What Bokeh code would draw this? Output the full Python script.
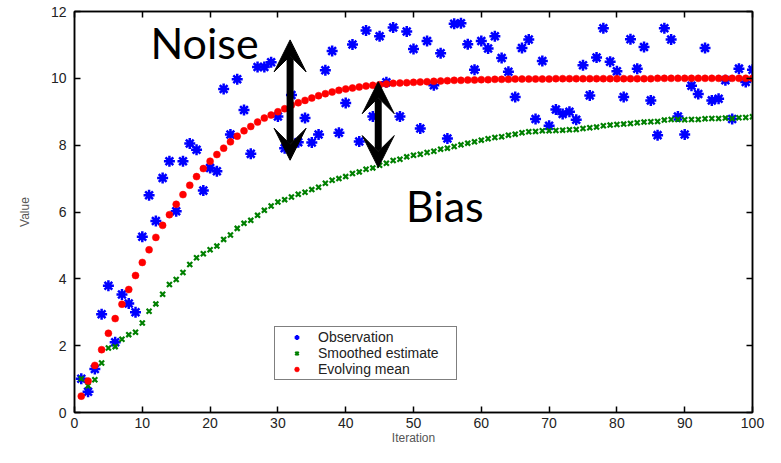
from bokeh.plotting import figure
from bokeh.models import (Range1d, FixedTicker, LinearAxis, Legend, LegendItem,
                          Label, Arrow, VeeHead)
from bokeh.embed import file_html
from bokeh.resources import INLINE

iterations = list(range(1, 101))

observation = [
    1.01, 0.62, 1.30, 2.94, 3.79, 2.10, 3.53, 3.26, 3.00, 5.26,
    6.50, 5.73, 7.02, 7.52, 6.02, 7.52, 8.05, 7.86, 6.64, 7.32,
    7.22, 9.68, 8.32, 9.97, 9.05, 7.74, 10.34, 10.34, 10.48, 8.86,
    7.91, 9.50, 8.09, 8.81, 8.08, 8.32, 10.24, 10.82, 8.37, 9.26,
    11.01, 8.11, 11.43, 8.86, 11.26, 9.88, 11.52, 8.86, 11.40, 10.88,
    8.50, 11.12, 9.79, 10.75, 8.20, 11.63, 11.65, 11.02, 10.26, 11.12,
    10.89, 11.26, 10.61, 10.20, 9.44, 10.91, 11.16, 8.78, 10.52, 8.58,
    9.07, 8.93, 9.00, 8.76, 10.39, 9.49, 10.62, 11.50, 10.50, 10.21,
    9.44, 11.17, 10.29, 10.94, 9.34, 8.30, 11.50, 11.16, 8.86, 8.32,
    9.78, 9.53, 10.91, 9.34, 9.39, 9.94, 8.78, 10.29, 9.89, 10.26,
]

smoothed = [
    1.01, 0.80, 0.98, 1.48, 1.93, 1.97, 2.19, 2.33, 2.40, 2.68,
    3.03, 3.25, 3.54, 3.83, 3.98, 4.19, 4.43, 4.63, 4.75, 4.87,
    4.98, 5.18, 5.31, 5.51, 5.66, 5.75, 5.90, 6.05, 6.18, 6.30,
    6.37, 6.45, 6.53, 6.59, 6.67, 6.74, 6.86, 6.95, 7.00, 7.06,
    7.15, 7.20, 7.28, 7.32, 7.40, 7.46, 7.54, 7.58, 7.65, 7.70,
    7.73, 7.78, 7.82, 7.88, 7.91, 7.96, 8.01, 8.06, 8.10, 8.15,
    8.19, 8.23, 8.25, 8.30, 8.33, 8.37, 8.40, 8.41, 8.43, 8.43,
    8.44, 8.45, 8.46, 8.47, 8.50, 8.52, 8.54, 8.58, 8.60, 8.62,
    8.63, 8.65, 8.67, 8.69, 8.70, 8.71, 8.75, 8.77, 8.77, 8.76,
    8.77, 8.77, 8.79, 8.80, 8.80, 8.81, 8.80, 8.82, 8.83, 8.85,
]

evolving_mean = [
    0.49, 0.94, 1.41, 1.88, 2.37, 2.81, 3.24, 3.68, 4.10, 4.49,
    4.87, 5.24, 5.60, 5.92, 6.23, 6.52, 6.80, 7.06, 7.30, 7.52,
    7.72, 7.91, 8.10, 8.27, 8.43, 8.56, 8.69, 8.81, 8.90, 9.00,
    9.09, 9.20, 9.27, 9.34, 9.41, 9.48, 9.54, 9.59, 9.64, 9.68,
    9.71, 9.74, 9.77, 9.79, 9.81, 9.83, 9.85, 9.86, 9.87, 9.88,
    9.89, 9.90, 9.91, 9.92, 9.93, 9.94, 9.94, 9.95, 9.95, 9.96,
    9.96, 9.97, 9.97, 9.97, 9.98, 9.98, 9.98, 9.98, 9.98, 9.98,
    9.99, 9.99, 9.99, 9.99, 9.99, 9.99, 9.99, 9.99, 9.99, 9.99,
    9.99, 9.99, 9.99, 9.99, 9.99, 10.00, 10.00, 10.00, 10.00, 10.00,
    10.00, 10.00, 10.00, 10.00, 10.00, 10.00, 10.00, 10.00, 10.00, 10.00,
]

x_ticks = [0, 10, 20, 30, 40, 50, 60, 70, 80, 90, 100]
y_ticks = [0, 2, 4, 6, 8, 10, 12]
series_labels = ["Observation", "Smoothed estimate", "Evolving mean"]

TICK_FONT = "Liberation Sans"

p = figure(width=765, height=447, output_backend="svg", toolbar_location=None,
           x_range=Range1d(0, 100), y_range=Range1d(0, 12),
           min_border_left=74, min_border_right=13, min_border_top=11,
           min_border_bottom=30, background_fill_color="white",
           border_fill_color="white")
p.xgrid.visible = False
p.ygrid.visible = False
p.outline_line_color = "black"
p.outline_line_width = 1.5


def style_axis(ax, ticks, show_labels):
    ax.ticker = FixedTicker(ticks=ticks)
    ax.major_tick_in = 6
    ax.major_tick_out = 0
    ax.minor_tick_line_color = None
    ax.axis_line_color = "black"
    ax.axis_line_width = 1.5
    ax.major_tick_line_color = "black"
    ax.major_tick_line_width = 1.5
    if show_labels:
        ax.major_label_text_font = TICK_FONT
        ax.major_label_text_font_size = "14px"
        ax.major_label_text_color = "#222222"
        ax.axis_label_text_font = TICK_FONT
        ax.axis_label_text_font_size = "12px"
        ax.axis_label_text_font_style = "normal"
        ax.axis_label_text_color = "#555555"
    else:
        ax.major_label_text_font_size = "1px"
        ax.major_label_text_color = None
        ax.major_label_standoff = 0


xa = p.xaxis[0]
ya = p.yaxis[0]
style_axis(xa, x_ticks, True)
style_axis(ya, y_ticks, True)
xa.major_label_standoff = 5
xa.axis_label = "Iteration"
xa.axis_label_standoff = 0
ya.major_label_standoff = 8
ya.axis_label = "Value"
ya.axis_label_standoff = 16

top_ax = LinearAxis()
style_axis(top_ax, x_ticks, False)
p.add_layout(top_ax, "above")
right_ax = LinearAxis()
style_axis(right_ax, y_ticks, False)
p.add_layout(right_ax, "right")

r_obs = p.scatter(iterations, observation, marker="asterisk", size=11,
                  line_color="#0000ff", line_width=2.5)
r_smooth = p.scatter(iterations, smoothed, marker="x", size=7,
                     line_color="#008000", line_width=2.2)
r_mean = p.scatter(iterations, evolving_mean, marker="circle", size=7,
                   fill_color="#ff0000", line_color="#ff0000", line_width=0.5)

legend = Legend(items=[LegendItem(label=series_labels[0], renderers=[r_obs]),
                       LegendItem(label=series_labels[1], renderers=[r_smooth]),
                       LegendItem(label=series_labels[2], renderers=[r_mean])],
                location=(200, 32), margin=0, padding=2, spacing=0,
                glyph_width=39, glyph_height=12, label_height=12,
                label_width=136, label_standoff=2,
                label_text_font=TICK_FONT, label_text_font_size="14px",
                label_text_color="#222222",
                border_line_color="black", border_line_width=1.5,
                background_fill_color="white", background_fill_alpha=1)
p.add_layout(legend)

p.add_layout(Label(x=11.2, y=11.08, text="Noise", text_font="Lato",
                   text_font_size="43px", text_color="black",
                   text_baseline="alphabetic"))
p.add_layout(Label(x=48.9, y=6.2, text="Bias", text_font="Lato",
                   text_font_size="43px", text_color="black",
                   text_baseline="alphabetic"))

for xa_, y0, y1 in [(31.8, 7.55, 11.15), (44.8, 7.33, 9.9)]:
    p.add_layout(Arrow(x_start=xa_, y_start=y0, x_end=xa_, y_end=y1,
                       line_color="black", line_width=7,
                       start=VeeHead(size=32, fill_color="black",
                                     line_color="black", line_width=1),
                       end=VeeHead(size=32, fill_color="black",
                                   line_color="black", line_width=1)))

open("out.html", "w").write(file_html(p, INLINE))
